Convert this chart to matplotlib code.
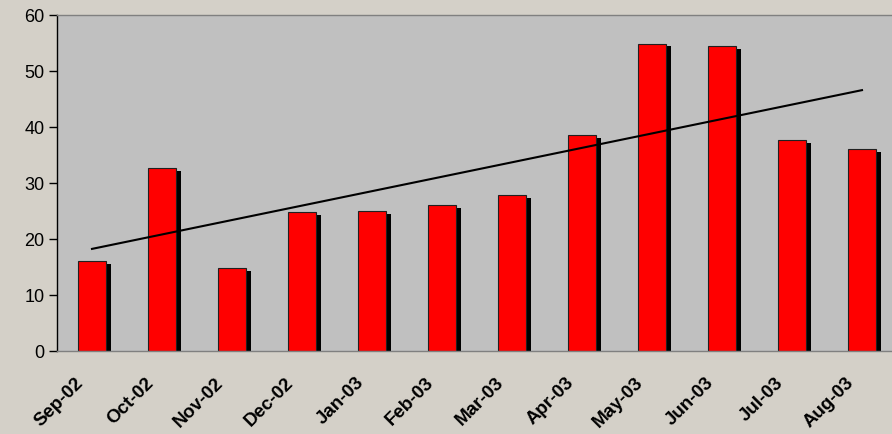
import matplotlib
matplotlib.use('Agg')
import matplotlib.pyplot as plt
import matplotlib.patheffects as pe
import matplotlib.transforms as mtransforms
import numpy as np

# Données mensuelles
mois = ['Sep-02', 'Oct-02', 'Nov-02', 'Dec-02', 'Jan-03', 'Feb-03',
        'Mar-03', 'Apr-03', 'May-03', 'Jun-03', 'Jul-03', 'Aug-03']
valeurs = [16.0, 32.6, 14.8, 24.8, 25.0, 26.1, 27.9, 38.6, 54.9, 54.5, 37.6, 36.1]
y_ticks = [0, 10, 20, 30, 40, 50, 60]

plt.rcParams['font.family'] = ['Liberation Sans', 'DejaVu Sans']

fig = plt.figure(figsize=(8.92, 4.35), dpi=100)
fig.patch.set_facecolor('#D4D0C8')

# la zone de tracé dépasse un peu à droite (comme dans l'original)
ax = fig.add_axes([57 / 892, 83 / 435, 840 / 892, 336 / 435])
ax.set_facecolor('#C0C0C0')

x = np.arange(len(mois))
barres = ax.bar(x, valeurs, width=0.4, color='#FF0000',
                edgecolor='#202020', linewidth=0.8, zorder=2)
for b in barres:
    b.set_path_effects([
        pe.SimplePatchShadow(offset=(3.5, -2), shadow_rgbFace='black', alpha=1.0),
        pe.Normal(),
    ])

# Courbe de tendance linéaire
pente, origine = np.polyfit(x, valeurs, 1)
ax.plot(x, pente * x + origine, color='black', linewidth=1.5, zorder=3)

ax.set_xlim(-0.5, len(mois) - 0.5)
ax.set_ylim(0, 60)
ax.set_yticks(y_ticks)
ax.set_yticklabels([str(v) for v in y_ticks], fontsize=13)
ax.set_xticks(x)
ax.set_xticklabels(mois, rotation=45, ha='right', rotation_mode='anchor',
                   fontsize=13.5, fontweight='bold')

ax.tick_params(axis='y', length=6, width=1, color='black', pad=3, labelcolor='black')
ax.tick_params(axis='x', length=0, pad=16)

# décalage des étiquettes vers la gauche
decalage = mtransforms.ScaledTranslation(-0.17, 0, fig.dpi_scale_trans)
for lab in ax.get_xticklabels():
    lab.set_transform(lab.get_transform() + decalage)

for nom in ['top', 'right', 'bottom']:
    ax.spines[nom].set_color('#808080')
    ax.spines[nom].set_linewidth(1)
ax.spines['left'].set_color('black')
ax.spines['left'].set_linewidth(1)

fig.savefig('out.png', dpi=100, facecolor=fig.get_facecolor())
plt.close(fig)
